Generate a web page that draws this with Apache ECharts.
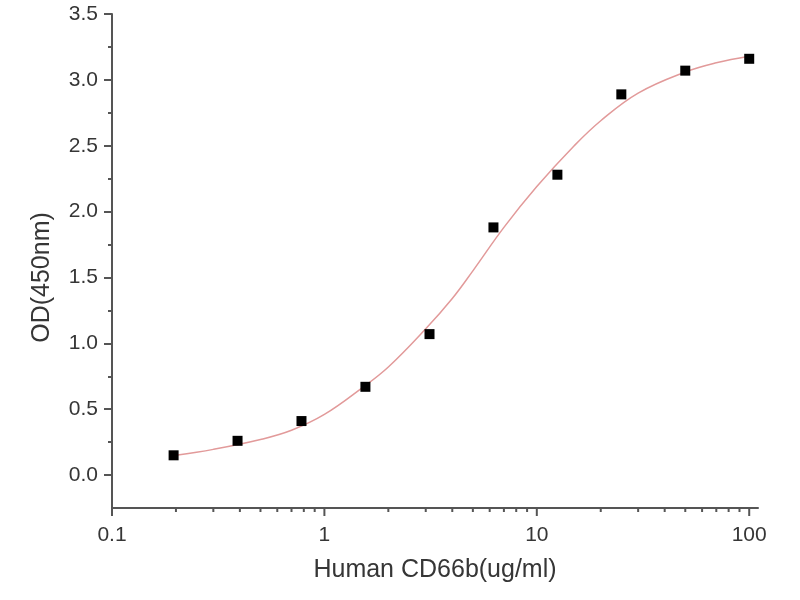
<!DOCTYPE html>
<html>
<head>
<meta charset="utf-8">
<title>CD66b binding curve</title>
<script src="https://cdn.jsdelivr.net/npm/echarts@6/dist/echarts.min.js"></script>
<style>
  html, body { margin: 0; padding: 0; background: #fff; }
  #chart { width: 800px; height: 600px; }
</style>
</head>
<body>
<div id="chart"></div>
<script>
// measured points (concentration, OD)
var conc = [0.195, 0.39, 0.78, 1.56, 3.125, 6.25, 12.5, 25, 50, 100];
var od = [0.15, 0.26, 0.41, 0.67, 1.07, 1.88, 2.28, 2.89, 3.07, 3.16];

// fitted curve
var fitX = [0.2, 0.3, 0.5, 0.7, 1, 1.5, 2, 3, 4, 5, 7, 10, 15, 20, 30, 50, 70, 100];
var fitY = [0.15, 0.195, 0.27, 0.34, 0.46, 0.66, 0.82, 1.11, 1.34, 1.55, 1.88, 2.19, 2.50, 2.69, 2.90, 3.06, 3.13, 3.18];

// axis ticks
var xMajor = [0.1, 1, 10, 100];
var xMinor = [0.2, 0.3, 0.4, 0.5, 0.6, 0.7, 0.8, 0.9,
              2, 3, 4, 5, 6, 7, 8, 9,
              20, 30, 40, 50, 60, 70, 80, 90];
var yMajor = [0, 0.5, 1, 1.5, 2, 2.5, 3, 3.5];
var yMinor = [0.25, 0.75, 1.25, 1.75, 2.25, 2.75, 3.25];

var yMin = -0.25;
var axisColor = '#555';
var textColor = '#363636';
var font = 'Liberation Sans, Arial, sans-serif';

var points = [];
for (var i = 0; i < conc.length; i++) {
  points.push([conc[i], od[i]]);
}
var fit = [];
for (var i = 0; i < fitX.length; i++) {
  fit.push([fitX[i], fitY[i]]);
}
var xTicks = [];
for (var i = 0; i < xMajor.length; i++) {
  xTicks.push([xMajor[i], yMin, 1]);
}
for (var i = 0; i < xMinor.length; i++) {
  xTicks.push([xMinor[i], yMin, 0]);
}

var myChart = echarts.init(document.getElementById('chart'));
var option = {
  backgroundColor: '#fff',
  animation: false,
  grid: { left: 112, right: 42, top: 14, bottom: 92 },
  xAxis: {
    type: 'log',
    min: 0.1,
    max: 110,
    name: 'Human CD66b(ug/ml)',
    nameLocation: 'middle',
    nameGap: 50,
    nameTextStyle: { fontSize: 25, color: textColor, fontFamily: font },
    axisLine: { show: true, onZero: false, lineStyle: { color: axisColor, width: 2 } },
    axisTick: { show: false },
    splitLine: { show: false },
    axisLabel: {
      fontSize: 21,
      color: textColor,
      fontFamily: font,
      margin: 17,
      showMaxLabel: false,
      formatter: function (v) {
        var l = Math.log(v) / Math.LN10;
        return Math.abs(l - Math.round(l)) < 1e-6 ? String(v) : '';
      }
    }
  },
  yAxis: [{
    type: 'value',
    min: yMin,
    max: 3.5,
    name: 'OD(450nm)',
    nameLocation: 'middle',
    nameRotate: 90,
    nameGap: 57,
    nameTextStyle: { fontSize: 25, color: textColor, fontFamily: font, padding: [0, 33, 0, 0] },
    axisLine: { show: true, lineStyle: { color: axisColor, width: 2 } },
    axisTick: { show: true, length: 8, customValues: yMajor, lineStyle: { color: axisColor, width: 2 } },
    axisLabel: {
      fontSize: 21, color: textColor, fontFamily: font, margin: 14,
      customValues: yMajor,
      formatter: function (v) { return v.toFixed(1); }
    },
    splitLine: { show: false }
  }, {
    type: 'value',
    min: yMin,
    max: 3.5,
    position: 'left',
    axisLine: { show: false },
    axisTick: { show: true, length: 4, customValues: yMinor, lineStyle: { color: axisColor, width: 2 } },
    axisLabel: { show: false },
    splitLine: { show: false }
  }],
  series: [{
    // x axis ticks (log axis: majors + 2..9 minors)
    type: 'custom',
    silent: true,
    clip: false,
    data: xTicks,
    encode: { x: 0, y: 1 },
    renderItem: function (params, api) {
      var p = api.coord([api.value(0), api.value(1)]);
      var len = api.value(2) ? 8 : 4;
      return {
        type: 'line',
        shape: { x1: p[0], y1: p[1], x2: p[0], y2: p[1] + len },
        style: { stroke: axisColor, lineWidth: 2 }
      };
    }
  }, {
    type: 'line',
    data: fit,
    smooth: 0.4,
    showSymbol: false,
    silent: true,
    lineStyle: { color: '#e29a9a', width: 1.5 },
    z: 2
  }, {
    type: 'scatter',
    data: points,
    symbol: 'rect',
    symbolSize: 10,
    itemStyle: { color: '#000', opacity: 1 },
    z: 3
  }]
};
myChart.setOption(option);
</script>
</body>
</html>
